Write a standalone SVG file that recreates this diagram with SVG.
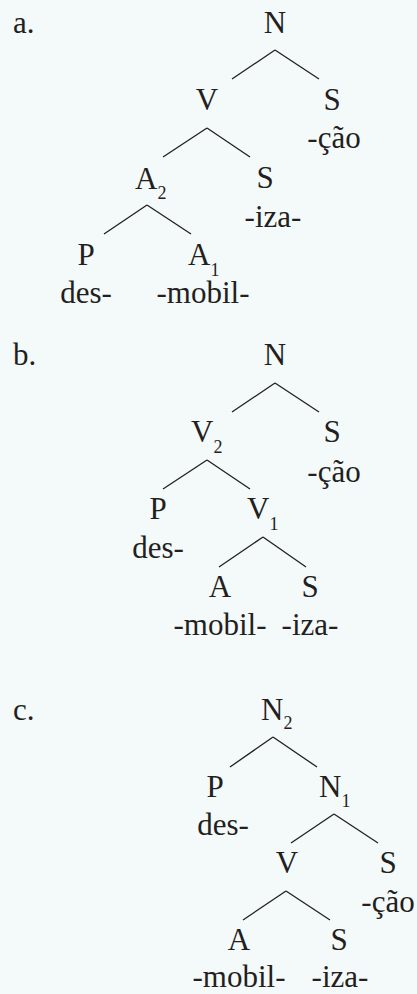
<svg xmlns="http://www.w3.org/2000/svg" width="417" height="994" viewBox="0 0 417 994">
<style>
text{font-family:"Liberation Serif","Times New Roman",serif;font-size:31px;fill:#231f20}
.m{text-anchor:middle}
.sub{font-size:18px}
.e line{stroke:#231f20;stroke-width:1.3;fill:none}
</style>
<rect width="417" height="994" fill="#f4f9fa"/>
<g id="labels">
<text x="13" y="33">a.</text>
<text x="13" y="365">b.</text>
<text x="13" y="720">c.</text>
</g>
<g class="e" id="connectors">
<line x1="275" y1="50" x2="232" y2="79"/><line x1="275" y1="50" x2="319" y2="79"/>
<line x1="207" y1="128" x2="163" y2="157"/><line x1="207" y1="128" x2="250" y2="157"/>
<line x1="147" y1="205" x2="104" y2="234"/><line x1="147" y1="205" x2="191" y2="234"/>
<line x1="275" y1="383" x2="232" y2="412"/><line x1="275" y1="383" x2="319" y2="412"/>
<line x1="207" y1="460" x2="163" y2="489"/><line x1="207" y1="460" x2="250" y2="489"/>
<line x1="263" y1="537" x2="219" y2="567"/><line x1="263" y1="537" x2="306" y2="567"/>
<line x1="273" y1="737" x2="230" y2="767"/><line x1="273" y1="737" x2="317" y2="767"/>
<line x1="334" y1="814" x2="291" y2="843"/><line x1="334" y1="814" x2="378" y2="843"/>
<line x1="286" y1="891" x2="243" y2="920"/><line x1="286" y1="891" x2="330" y2="920"/>
</g>
<g id="a-N"><text class="m" x="275" y="33">N</text></g>
<g id="a-V"><text class="m" x="207" y="110">V</text></g>
<g id="a-S1"><text class="m" x="332" y="110">S</text><text class="m" x="334" y="148">-ção</text></g>
<g id="a-A2"><text x="135" y="189">A<tspan class="sub" dy="10">2</tspan></text></g>
<g id="a-S2"><text class="m" x="265" y="188">S</text><text class="m" x="273" y="227">-iza-</text></g>
<g id="a-P"><text class="m" x="86" y="265">P</text><text class="m" x="86" y="303">des-</text></g>
<g id="a-A1"><text x="188" y="265">A<tspan class="sub" dy="11">1</tspan></text><text class="m" x="203" y="303">-mobil-</text></g>

<g id="b-N"><text class="m" x="275" y="365">N</text></g>
<g id="b-V2"><text x="191" y="442">V<tspan class="sub" dy="11">2</tspan></text></g>
<g id="b-S1"><text class="m" x="332" y="442">S</text><text class="m" x="334" y="482">-ção</text></g>
<g id="b-P"><text class="m" x="158" y="519">P</text><text class="m" x="158" y="558">des-</text></g>
<g id="b-V1"><text x="247" y="519">V<tspan class="sub" dy="11">1</tspan></text></g>
<g id="b-A"><text class="m" x="220" y="597">A</text><text class="m" x="220" y="635">-mobil-</text></g>
<g id="b-S2"><text class="m" x="310" y="597">S</text><text class="m" x="310" y="635">-iza-</text></g>

<g id="c-N2"><text x="261" y="720">N<tspan class="sub" dy="9">2</tspan></text></g>
<g id="c-P"><text class="m" x="215" y="797">P</text><text class="m" x="223" y="835">des-</text></g>
<g id="c-N1"><text x="319" y="797">N<tspan class="sub" dy="10">1</tspan></text></g>
<g id="c-V"><text class="m" x="287" y="873">V</text></g>
<g id="c-S1"><text class="m" x="388" y="873">S</text><text class="m" x="388" y="912">-ção</text></g>
<g id="c-A"><text class="m" x="239" y="950">A</text><text class="m" x="239" y="987">-mobil-</text></g>
<g id="c-S2"><text class="m" x="339" y="950">S</text><text class="m" x="340" y="987">-iza-</text></g>
</svg>
